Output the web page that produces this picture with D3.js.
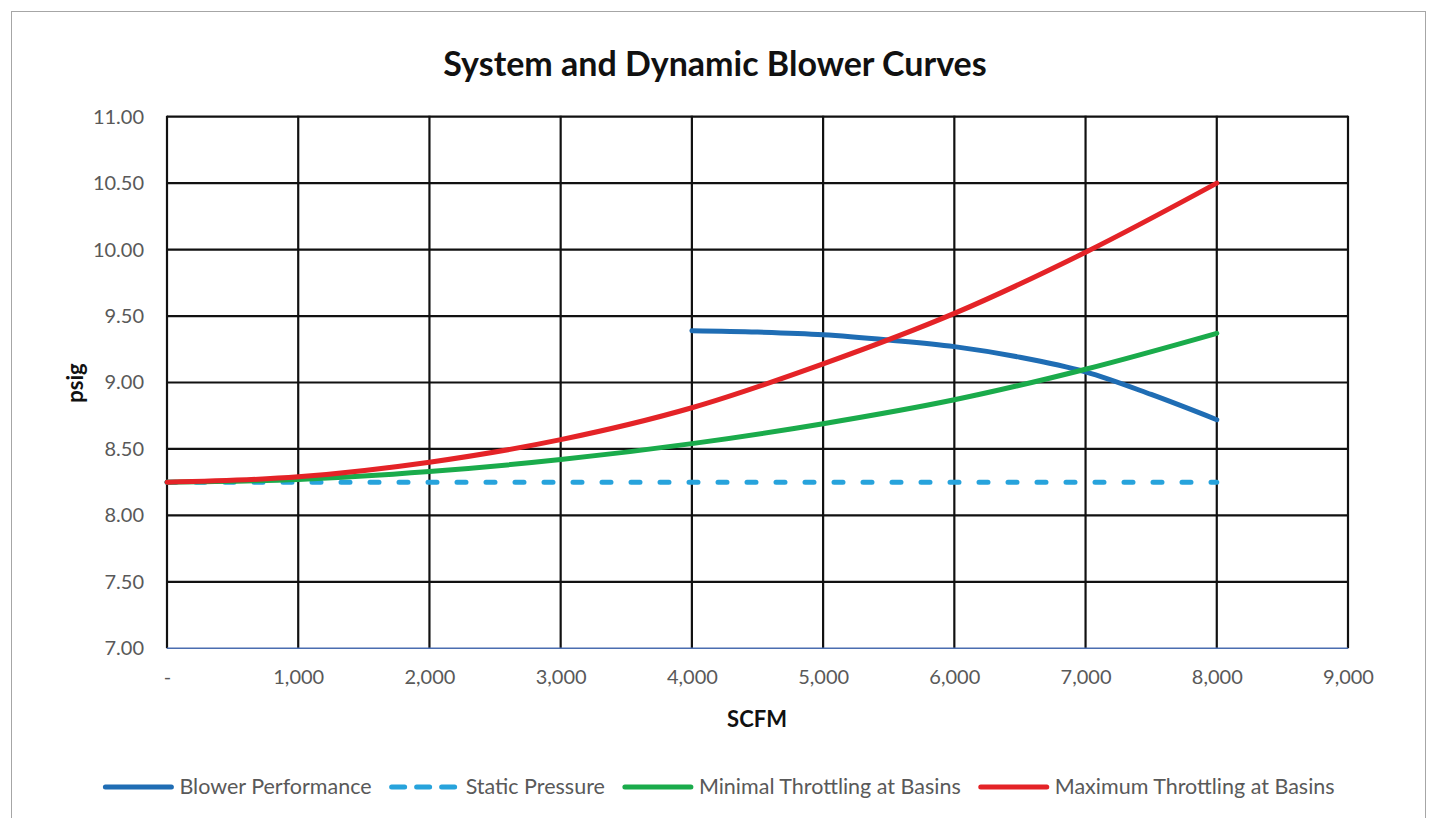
<!DOCTYPE html>
<meta charset="utf-8">
<style>

body {
  margin: 0;
  background: #fff;
  font-family: Lato, "Open Sans", sans-serif;
}

.tick text {
  fill: #595959;
  font-family: Lato, "Open Sans", sans-serif;
  font-size: 20px;
}

.series {
  fill: none;
  stroke-width: 5px;
  stroke-linecap: round;
  stroke-linejoin: round;
}

</style>
<body>
<script src="https://d3js.org/d3.v7.js"></script>
<script>

// values (SCFM vs psig)
var blowerX = [4000, 4500, 5000, 5500, 6000, 6500, 7000, 7500, 8000];
var blowerY = [9.39, 9.38, 9.36, 9.32, 9.27, 9.19, 9.08, 8.91, 8.72];

var staticX = [0, 8000];
var staticY = [8.25, 8.25];

var flowX = [0, 1000, 2000, 3000, 4000, 5000, 6000, 7000, 8000];
var minimalY = [8.25, 8.27, 8.33, 8.42, 8.54, 8.69, 8.87, 9.10, 9.37];
var maximumY = [8.25, 8.29, 8.40, 8.57, 8.81, 9.14, 9.52, 9.98, 10.50];

var xTicks = [0, 1000, 2000, 3000, 4000, 5000, 6000, 7000, 8000, 9000];
var yTicks = [7.0, 7.5, 8.0, 8.5, 9.0, 9.5, 10.0, 10.5, 11.0];

var seriesNames = ["Blower Performance", "Static Pressure", "Minimal Throttling at Basins", "Maximum Throttling at Basins"];
var seriesColors = ["#1f6db4", "#27a3dc", "#1aab4b", "#e42327"];

var width = 1429;
var height = 818;

var plot = {left: 167, right: 1348, top: 116.7, bottom: 648.3};

var xScale = d3.scaleLinear()
    .domain([0, 9000])
    .range([plot.left, plot.right]);

var yScale = d3.scaleLinear()
    .domain([7, 11])
    .range([plot.bottom, plot.top]);

var svg = d3.select("body").append("svg")
    .attr("width", width)
    .attr("height", height);

// chart frame
svg.append("rect")
    .attr("x", 11.5)
    .attr("y", 11.5)
    .attr("width", 1414)
    .attr("height", 830)
    .attr("fill", "#fff")
    .attr("stroke", "#a6a6a6")
    .attr("stroke-width", 1);

svg.append("text")
    .attr("x", 715)
    .attr("y", 76)
    .attr("text-anchor", "middle")
    .style("font-size", "34px")
    .style("font-weight", "bold")
    .style("fill", "#111")
    .text("System and Dynamic Blower Curves");

// gridlines
svg.append("g")
    .selectAll("line")
    .data(yTicks.filter(d => d > 7))
    .enter()
    .append("line")
      .attr("x1", plot.left)
      .attr("x2", plot.right)
      .attr("y1", d => yScale(d))
      .attr("y2", d => yScale(d))
      .attr("stroke", "#111")
      .attr("stroke-width", 2.2);

svg.append("g")
    .selectAll("line")
    .data(xTicks)
    .enter()
    .append("line")
      .attr("x1", d => xScale(d))
      .attr("x2", d => xScale(d))
      .attr("y1", plot.top - 1)
      .attr("y2", plot.bottom)
      .attr("stroke", "#111")
      .attr("stroke-width", 2.2);

svg.append("line")
    .attr("x1", plot.left)
    .attr("x2", plot.right)
    .attr("y1", plot.bottom)
    .attr("y2", plot.bottom)
    .attr("stroke", "#4a6db0")
    .attr("stroke-width", 1.5);

var yAxis = d3.axisLeft(yScale)
    .tickValues(yTicks)
    .tickFormat(d3.format(".2f"))
    .tickSize(0)
    .tickPadding(23);

var xAxis = d3.axisBottom(xScale)
    .tickValues(xTicks)
    .tickFormat(d => d === 0 ? "-" : d3.format(",")(d))
    .tickSize(0)
    .tickPadding(22);

svg.append("g")
    .attr("transform", `translate(${plot.left}, 0)`)
    .call(yAxis)
    .call(g => g.select(".domain").remove());

svg.append("g")
    .attr("transform", `translate(0, ${plot.bottom})`)
    .call(xAxis)
    .call(g => g.select(".domain").remove());

svg.append("text")
    .attr("transform", `translate(83, 383) rotate(-90)`)
    .attr("text-anchor", "middle")
    .style("font-size", "22px")
    .style("font-weight", "bold")
    .style("fill", "#111")
    .text("psig");

svg.append("text")
    .attr("x", 757)
    .attr("y", 727)
    .attr("text-anchor", "middle")
    .style("font-size", "22px")
    .style("font-weight", "bold")
    .style("fill", "#111")
    .text("SCFM");

var line = d3.line()
    .x(d => xScale(d[0]))
    .y(d => yScale(d[1]))
    .curve(d3.curveCatmullRom);

var series = [
  {name: seriesNames[0], values: d3.zip(blowerX, blowerY), dash: null},
  {name: seriesNames[1], values: d3.zip(staticX, staticY), dash: "9,20"},
  {name: seriesNames[2], values: d3.zip(flowX, minimalY), dash: null},
  {name: seriesNames[3], values: d3.zip(flowX, maximumY), dash: null}
];

svg.selectAll("path.series")
    .data(series)
    .enter()
    .append("path")
      .attr("class", "series")
      .attr("d", d => line(d.values))
      .style("stroke", (d, i) => seriesColors[i])
      .style("stroke-dasharray", d => d.dash);

// legend
var legend = svg.append("g");

var items = legend.selectAll("g")
    .data(series)
    .enter()
    .append("g");

items.append("line")
    .attr("class", "series")
    .attr("x1", 2)
    .attr("x2", 68)
    .attr("y1", 0)
    .attr("y2", 0)
    .style("stroke", (d, i) => seriesColors[i])
    .style("stroke-dasharray", d => d.dash ? "13,12" : null);

items.append("text")
    .attr("x", 76)
    .attr("y", 7)
    .style("font-size", "21.5px")
    .style("fill", "#595959")
    .text(d => d.name);

var xpos = 0;
items.each(function() {
  var w = this.getBBox().width;
  d3.select(this).attr("transform", `translate(${xpos}, 0)`);
  xpos += w + 20;
});
var total = xpos - 20;
legend.attr("transform", `translate(${718 - total / 2}, 787)`);

</script>
